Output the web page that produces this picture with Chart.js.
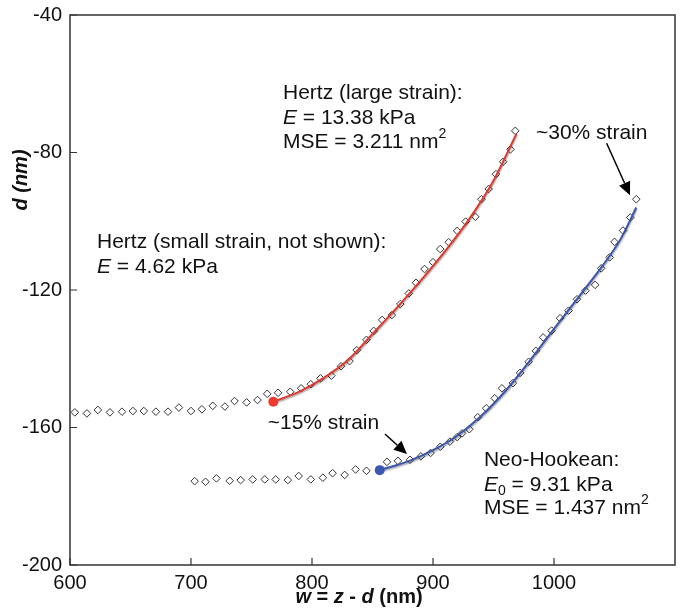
<!DOCTYPE html>
<html lang="en">
<head>
  <meta charset="UTF-8">
  <title>Indentation fits</title>
  <script src="https://cdn.jsdelivr.net/npm/chart.js"></script>
  <style>
    body { margin: 0; background: #fff; }
  </style>
</head>
<body>
  <canvas id="fitChart" width="681" height="615"></canvas>

  <script>
    // measured curves (diamonds), w in nm and d in nm
    const upperW = [604, 614, 623, 633, 643, 652, 661, 671, 681, 690, 700, 709, 718, 728, 736, 746, 755, 763, 772, 782,
                    791, 799, 807, 816, 824, 831, 837, 845, 851, 858, 866, 873, 880, 886, 893, 900, 906, 913, 920, 927,
                    935, 940, 946, 952, 958, 964, 968];
    const upperD = [-155.6, -155.9, -154.9, -155.6, -155.4, -155.2, -155.2, -155.4, -155.4, -154.2, -155.2, -154.7, -153.7, -153.9, -152.3, -152.7, -152.0, -150.2, -149.9, -149.6,
                    -148.6, -147.4, -145.7, -144.9, -142.2, -140.7, -137.5, -134.5, -131.9, -128.7, -127.3, -124.1, -121.0, -117.9, -113.9, -111.9, -108.1, -106.1, -102.8, -100.1,
                    -98.7, -93.6, -90.6, -86.3, -82.7, -79.1, -73.7];

    const lowerW = [703, 712, 721, 732, 741, 751, 761, 770, 780, 789, 799, 809, 817, 827, 836, 845, 862, 871, 881, 890,
                    898, 906, 914, 920, 924, 930, 937, 944, 951, 957, 966, 972, 979, 985, 991, 998, 1005, 1012, 1019, 1026,
                    1034, 1039, 1046, 1050, 1057, 1063, 1068];
    const lowerD = [-175.6, -175.8, -174.8, -175.5, -175.3, -175.1, -175.1, -175.1, -175.3, -174.1, -175.1, -174.6, -173.3, -173.8, -172.2, -172.6, -170.0, -169.7, -169.4, -168.4,
                    -167.4, -165.6, -164.1, -162.8, -161.7, -160.5, -157.0, -154.4, -151.5, -148.6, -147.1, -144.1, -140.9, -137.7, -133.8, -131.8, -128.2, -126.0, -122.7, -120.2,
                    -118.5, -113.7, -110.5, -106.0, -102.7, -98.9, -93.6];

    // fitted curves
    const hertzW = [768, 790, 810, 830, 850, 870, 890, 910, 930, 950, 969];
    const hertzD = [-152.5, -149.5, -145.5, -140.3, -132.8, -125.2, -117.2, -108.7, -99.3, -88.2, -74.5];
    const neoW = [856, 880, 900, 920, 940, 960, 980, 1000, 1020, 1040, 1055, 1068];
    const neoD = [-172.4, -169.8, -166.6, -162.4, -156.6, -149.3, -140.6, -131.3, -122.2, -113.0, -105.2, -96.0];

    const xTicks = [600, 700, 800, 900, 1000];
    const yTicks = [-40, -80, -120, -160, -200];

    const FONT = '"Liberation Sans", Arial, Helvetica, sans-serif';
    const pts = (xs, ys) => xs.map((x, i) => ({ x: x, y: ys[i] }));

    // text blocks: anchor in data units, list of runs
    const notes = [
      { x: 776, y: -62.7, runs: [{ t: 'Hertz (large strain):' }] },
      { x: 776, y: -70.0, runs: [{ t: 'E', s: 'italic' }, { t: ' = 13.38 kPa' }] },
      { x: 776, y: -76.9, runs: [{ t: 'MSE = 3.211 nm' }, { t: '2', sup: true }] },
      { x: 622.3, y: -106.0, runs: [{ t: 'Hertz (small strain, not shown):' }] },
      { x: 622.3, y: -113.3, runs: [{ t: 'E', s: 'italic' }, { t: ' = 4.62 kPa' }] },
      { x: 985.1, y: -74.3, runs: [{ t: '~30% strain' }] },
      { x: 763.4, y: -158.7, runs: [{ t: '~15% strain' }] },
      { x: 942.1, y: -169.5, runs: [{ t: 'Neo-Hookean:' }] },
      { x: 942.1, y: -176.7, runs: [{ t: 'E', s: 'italic' }, { t: '0', sub: true }, { t: ' = 9.31 kPa' }] },
      { x: 942.1, y: -183.4, runs: [{ t: 'MSE = 1.437 nm' }, { t: '2', sup: true }] }
    ];
    const arrows = [
      { x0: 1043.5, y0: -77.3, x1: 1062.8, y1: -92.4 },
      { x0: 860.3, y0: -161.9, x1: 878.5, y1: -167.7 }
    ];

    function runFont(r, size) {
      const sz = (r.sup || r.sub) ? Math.round(size * 0.66) : size;
      return (r.s || '') + ' ' + sz + 'px ' + FONT;
    }
    function runsWidth(ctx, runs, size) {
      let w = 0;
      runs.forEach(r => { ctx.font = runFont(r, size); w += ctx.measureText(r.t).width; });
      return w;
    }
    function drawRuns(ctx, x, y, runs, size) {
      let cx = x;
      runs.forEach(r => {
        ctx.font = runFont(r, size);
        const dy = r.sup ? -size * 0.38 : (r.sub ? size * 0.3 : 0);
        ctx.fillText(r.t, cx, y + dy);
        cx += ctx.measureText(r.t).width;
      });
    }

    const decorations = {
      id: 'decorations',
      beforeDatasetDraw(chart, args) {
        const ds = chart.data.datasets[args.index];
        if (ds.fit) {
          const ctx = chart.ctx;
          ctx.save();
          ctx.shadowColor = 'rgba(0,0,0,0.35)';
          ctx.shadowOffsetX = 0.5;
          ctx.shadowOffsetY = 1.5;
          ctx.shadowBlur = 1.5;
        }
      },
      afterDatasetDraw(chart, args) {
        if (chart.data.datasets[args.index].fit) chart.ctx.restore();
      },
      afterDraw(chart) {
        const ctx = chart.ctx;
        const a = chart.chartArea;
        const xs = chart.scales.x, ys = chart.scales.y;
        ctx.save();
        ctx.strokeStyle = '#333';
        ctx.lineWidth = 1.5;
        ctx.strokeRect(a.left, a.top, a.right - a.left, a.bottom - a.top);
        // inward ticks
        ctx.lineWidth = 1.2;
        ctx.beginPath();
        xTicks.forEach(v => {
          const px = xs.getPixelForValue(v);
          ctx.moveTo(px, a.bottom);
          ctx.lineTo(px, a.bottom - 7);
        });
        yTicks.forEach(v => {
          const py = ys.getPixelForValue(v);
          ctx.moveTo(a.left, py);
          ctx.lineTo(a.left + 7, py);
        });
        ctx.stroke();

        // notes
        ctx.fillStyle = '#111';
        ctx.textBaseline = 'middle';
        ctx.textAlign = 'left';
        notes.forEach(n => drawRuns(ctx, xs.getPixelForValue(n.x), ys.getPixelForValue(n.y), n.runs, 21));

        // arrows
        ctx.strokeStyle = '#000';
        ctx.fillStyle = '#000';
        ctx.lineWidth = 1.5;
        arrows.forEach(ar => {
          const x0 = xs.getPixelForValue(ar.x0), y0 = ys.getPixelForValue(ar.y0);
          const x1 = xs.getPixelForValue(ar.x1), y1 = ys.getPixelForValue(ar.y1);
          const ang = Math.atan2(y1 - y0, x1 - x0);
          const hl = 13, hw = 6;
          const bx = x1 - hl * Math.cos(ang), by = y1 - hl * Math.sin(ang);
          ctx.beginPath();
          ctx.moveTo(x0, y0);
          ctx.lineTo(bx, by);
          ctx.stroke();
          ctx.beginPath();
          ctx.moveTo(x1, y1);
          ctx.lineTo(bx + hw * Math.sin(ang), by - hw * Math.cos(ang));
          ctx.lineTo(bx - hw * Math.sin(ang), by + hw * Math.cos(ang));
          ctx.closePath();
          ctx.fill();
        });

        // axis titles
        ctx.fillStyle = '#111';
        const xt = [{ t: 'w', s: 'italic bold' }, { t: ' = ', s: 'bold' }, { t: 'z', s: 'italic bold' },
                    { t: ' - ', s: 'bold' }, { t: 'd', s: 'italic bold' }, { t: ' (nm)', s: 'bold' }];
        const xw = runsWidth(ctx, xt, 20);
        drawRuns(ctx, 359 - xw / 2, 597, xt, 20);
        const yt = [{ t: 'd (nm)', s: 'italic bold' }];
        const yw = runsWidth(ctx, yt, 20);
        ctx.translate(21, 180);
        ctx.rotate(-Math.PI / 2);
        drawRuns(ctx, -yw / 2, 0, yt, 20);
        ctx.restore();
      }
    };

    const diamond = {
      showLine: false,
      pointStyle: 'rectRot',
      pointRadius: 3.8,
      pointBorderWidth: 1,
      pointBorderColor: '#333',
      pointBackgroundColor: '#fff',
      order: 2
    };

    const fitChart = new Chart(document.getElementById('fitChart'), {
      type: 'scatter',
      data: {
        datasets: [
          Object.assign({ label: 'upper', data: pts(upperW, upperD) }, diamond),
          Object.assign({ label: 'lower', data: pts(lowerW, lowerD) }, diamond),
          { label: 'Hertz (large strain)', data: pts(hertzW, hertzD), fit: true, showLine: true, borderColor: '#dc3a30',
            borderWidth: 2, pointRadius: 0, cubicInterpolationMode: 'monotone', order: 1 },
          { label: 'Neo-Hookean', data: pts(neoW, neoD), fit: true, showLine: true, borderColor: '#3a55aa',
            borderWidth: 2, pointRadius: 0, cubicInterpolationMode: 'monotone', order: 1 },
          { label: 'start H', data: [{ x: hertzW[0], y: hertzD[0] }], pointRadius: 5, pointBackgroundColor: '#ef3b2d',
            pointBorderWidth: 0, order: 0 },
          { label: 'start N', data: [{ x: neoW[0], y: neoD[0] }], pointRadius: 5, pointBackgroundColor: '#3b58b0',
            pointBorderWidth: 0, order: 0 }
        ]
      },
      options: {
        responsive: false,
        animation: false,
        layout: { padding: { top: 15, right: 6, left: 0, bottom: 0 } },
        plugins: { legend: { display: false }, tooltip: { enabled: false } },
        scales: {
          x: {
            type: 'linear', min: 600, max: 1100,
            afterFit: s => { s.height = 50; s.paddingLeft = 0; s.paddingRight = 0; },
            grid: { display: false, drawTicks: false },
            border: { display: false },
            ticks: {
              stepSize: 100, autoSkip: false, maxRotation: 0, padding: 6, color: '#111',
              font: { family: FONT, size: 20 },
              callback: v => (v === 1100 ? '' : v)
            }
          },
          y: {
            type: 'linear', min: -200, max: -40,
            afterFit: s => { s.width = 70; s.paddingTop = 0; s.paddingBottom = 0; },
            grid: { display: false, drawTicks: false },
            border: { display: false },
            ticks: {
              stepSize: 40, autoSkip: false, padding: 8, color: '#111',
              font: { family: FONT, size: 20 }
            }
          }
        }
      },
      plugins: [decorations]
    });
  </script>
</body>
</html>
